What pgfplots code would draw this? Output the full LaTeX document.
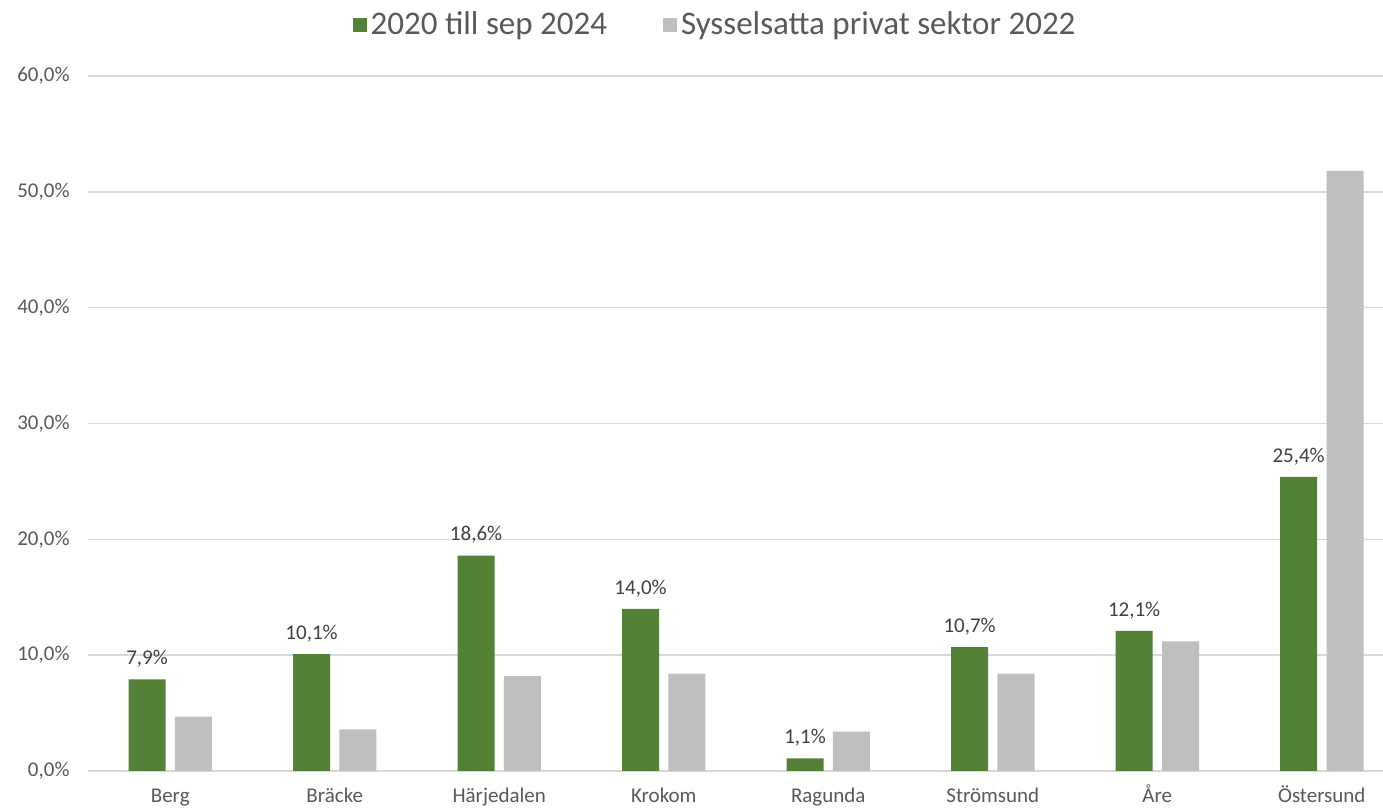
\documentclass[border=0pt]{standalone}
\usepackage{pgfplots}
\pgfplotsset{compat=1.18}
\usepackage{fontspec}
\setmainfont{Carlito}
\definecolor{grn}{HTML}{538135}
\definecolor{gry}{HTML}{BFBFBF}
\definecolor{txt}{HTML}{595959}
\definecolor{lbl}{HTML}{404040}
\definecolor{gridc}{HTML}{D9D9D9}
\begin{document}
\begin{tikzpicture}
\path[use as bounding box] (-44pt,-19pt) rectangle (647.5pt,385.5pt);
\begin{axis}[
  scale only axis, width=647.5pt, height=347.5pt,
  ybar=4.7pt, bar width=18.5pt,
  xmin=-0.5, xmax=7.372, ymin=0, ymax=60,
  xtick=data,
  xticklabels={Berg,Bräcke,Härjedalen,Krokom,Ragunda,Strömsund,Åre,Östersund},
  ytick={0,10,...,60},
  yticklabel={\pgfmathprintnumber[fixed,fixed zerofill,precision=1,use comma]{\tick}\%},
  /pgf/number format/assume math mode=true,
  axis line style={draw=none},
  major tick length=0pt,
  ymajorgrids, grid style={gridc, line width=0.75pt},
  tick label style={font=\fontsize{10.5}{12}\selectfont, text=txt},
  xticklabel style={anchor=base, yshift=-16pt},
  yticklabel style={xshift=-5.7pt},
  legend style={at={(0.485,1)}, anchor=south, yshift=15pt, draw=none, fill=none,
    legend columns=2, font=\fontsize{16.5}{19}\selectfont, text=txt},
  legend image code/.code={\fill[#1] (0pt,-3.5pt) rectangle (7pt,3.5pt);},
  /tikz/every even column/.append style={column sep=26pt},
  legend cell align=left,
]
\addplot[fill=grn, draw=none,
  nodes near coords={\pgfmathprintnumber[fixed,fixed zerofill,precision=1,use comma]{\pgfplotspointmeta}\%},
  every node near coord/.append style={font=\fontsize{10.5}{12}\selectfont, text=lbl, yshift=2.5pt}]
  coordinates {(0,7.9) (1,10.1) (2,18.6) (3,14.0) (4,1.1) (5,10.7) (6,12.1) (7,25.4)};
\addplot[fill=gry, draw=none]
  coordinates {(0,4.7) (1,3.6) (2,8.2) (3,8.4) (4,3.4) (5,8.4) (6,11.2) (7,51.8)};
\legend{2020 till sep 2024, Sysselsatta privat sektor 2022}
\end{axis}
\end{tikzpicture}
\end{document}
